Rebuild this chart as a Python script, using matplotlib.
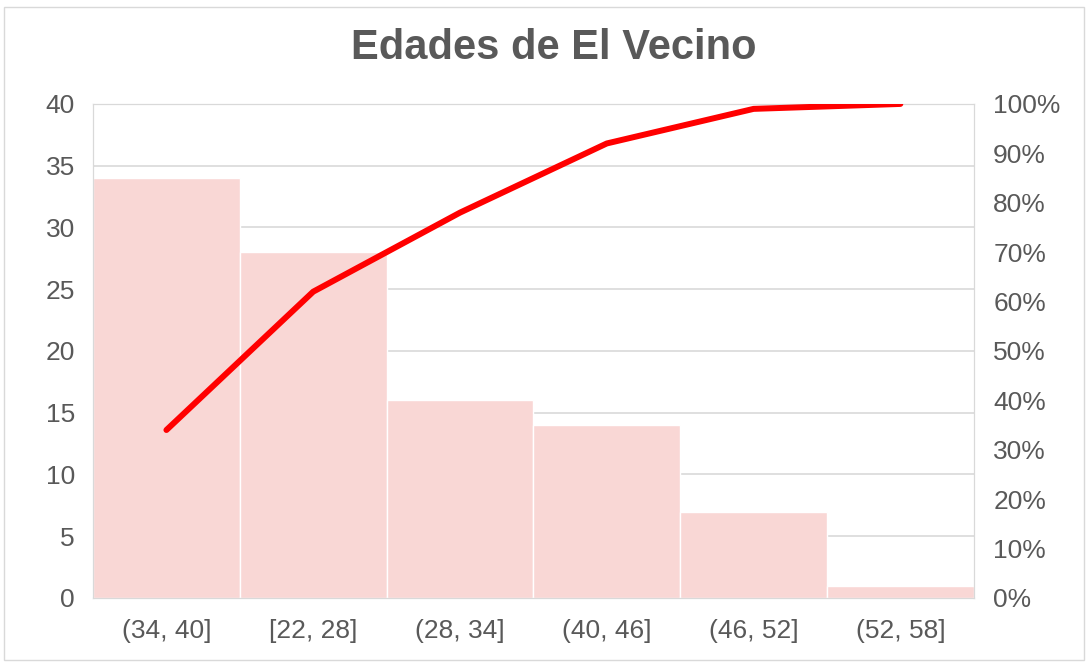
import matplotlib.pyplot as plt
from matplotlib.patches import Rectangle
from matplotlib.ticker import PercentFormatter

# Datos del histograma de Pareto
categorias = ["(34, 40]", "[22, 28]", "(28, 34]", "(40, 46]", "(46, 52]", "(52, 58]"]
frecuencias = [34, 28, 16, 14, 7, 1]
acumulado = [34, 62, 78, 92, 99, 100]

plt.rcParams['font.family'] = ['Liberation Sans', 'DejaVu Sans']
gris = '#595959'
rejilla = '#d9d9d9'

fig = plt.figure(figsize=(10.88, 6.62), dpi=100)
fig.patches.append(Rectangle((0.004, 0.003), 0.992, 0.986, transform=fig.transFigure,
                             fill=False, edgecolor='#d9d9d9', linewidth=1))
ax = fig.add_axes([0.0855, 0.0967, 0.8095, 0.7463])

x = range(len(categorias))
ax.bar(x, frecuencias, width=1.0, color='#f9d7d5', edgecolor='white', linewidth=1, zorder=2)
ax.set_xlim(-0.5, len(categorias) - 0.5)
ax.set_ylim(0, 40)
ax.set_yticks(range(0, 41, 5))
ax.set_xticks(list(x))
ax.set_xticklabels(categorias)
ax.grid(axis='y', color=rejilla, linewidth=1.2, zorder=0)
ax.set_axisbelow(True)
for s in ax.spines.values():
    s.set_color(rejilla)
ax.tick_params(axis='both', length=0, colors=gris, labelsize=19)
ax.tick_params(axis='y', pad=13)
ax.tick_params(axis='x', pad=15)

ax2 = ax.twinx()
ax2.plot(list(x), acumulado, color='#ff0000', linewidth=4.3, solid_capstyle='round',
         solid_joinstyle='round', zorder=3)
ax2.set_ylim(0, 100)
ax2.set_yticks(range(0, 101, 10))
ax2.yaxis.set_major_formatter(PercentFormatter(decimals=0))
ax2.tick_params(axis='y', length=0, colors=gris, labelsize=19, pad=14)
for s in ax2.spines.values():
    s.set_color(rejilla)

fig.suptitle('Edades de El Vecino', x=0.509, y=0.927, va='center', fontsize=30,
             fontweight='bold', color=gris)

fig.savefig('out.png', dpi=100)
